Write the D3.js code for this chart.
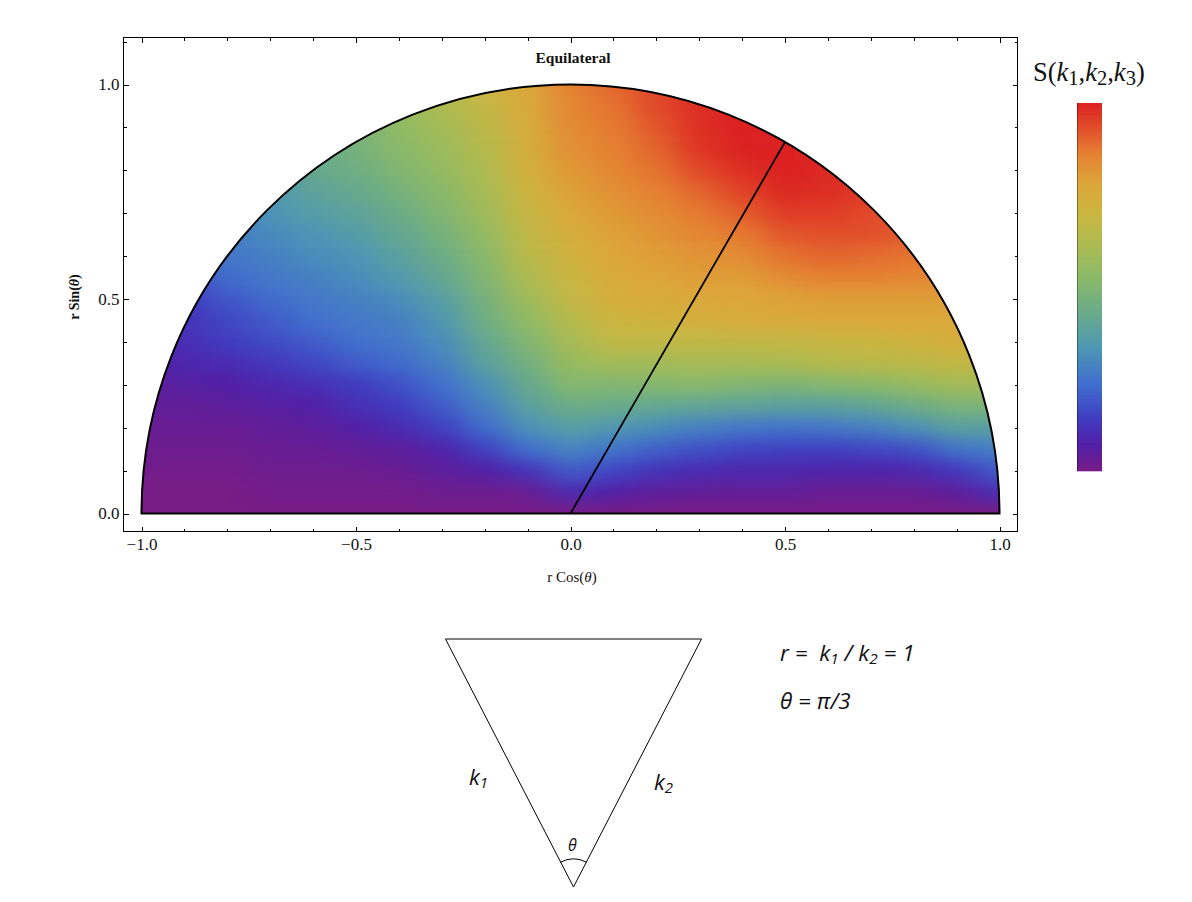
<!DOCTYPE html>
<html lang="en">
<head>
<meta charset="UTF-8">
<title>Equilateral</title>
<script src="https://cdnjs.cloudflare.com/ajax/libs/d3/7.8.5/d3.min.js"></script>
<style>
    html, body { margin: 0; padding: 0; background: #fff; }
    svg { display: block; }
    .axis text { font: 17px "Liberation Serif", serif; fill: #111; }
    .axis path, .axis line { stroke: #000; shape-rendering: crispEdges; }
    .label { font: 16px "Liberation Serif", serif; fill: #111; }
    .note { font-family: "Open Sans", sans-serif; font-style: italic; fill: #111; white-space: pre; }
</style>
</head>
<body>
<script>
var xValues = [-1.1, -1, -.9, -.8, -.7, -.6, -.5, -.4, -.3, -.2, -.1, 0, .1, .2, .3, .4, .5, .6, .7, .8, .9, 1, 1.1];
var yValues = [1.1, 1.05, 1, .95, .9, .85, .8, .75, .7, .65, .6, .55, .5, .45, .4, .35, .3, .25, .2, .15, .1, .05, 0, -.05];
var sValues = [
    [.30, .30, .30, .30, .34, .42, .50, .57, .64, .71, .78, .86, .90, .96, .99, 1, 1, 1, .96, .90, .86, .80, .80],
    [.30, .30, .30, .30, .34, .42, .50, .57, .64, .71, .78, .86, .90, .96, .99, 1, 1, 1, .96, .90, .86, .80, .80],
    [.30, .30, .30, .30, .34, .42, .50, .57, .64, .71, .78, .86, .90, .95, .99, 1, 1, 1, .96, .90, .86, .80, .80],
    [.30, .30, .30, .30, .34, .42, .48, .56, .62, .68, .76, .85, .88, .94, .98, 1, 1, 1, .96, .90, .86, .80, .80],
    [.30, .30, .30, .30, .34, .42, .48, .54, .59, .66, .75, .84, .87, .92, .98, 1, 1, .99, .96, .90, .86, .80, .80],
    [.28, .28, .28, .30, .34, .42, .47, .52, .57, .64, .74, .83, .86, .90, .97, 1, 1, .99, .96, .90, .86, .82, .82],
    [.27, .27, .27, .29, .34, .42, .45, .50, .55, .62, .73, .81, .85, .88, .94, .98, 1, .99, .96, .91, .87, .82, .82],
    [.25, .25, .25, .28, .34, .39, .42, .47, .52, .60, .71, .79, .83, .86, .90, .95, .99, .98, .96, .91, .87, .83, .83],
    [.23, .23, .24, .27, .33, .36, .39, .44, .50, .58, .69, .77, .81, .84, .87, .91, .96, .96, .94, .91, .87, .84, .84],
    [.20, .20, .22, .27, .30, .33, .36, .41, .47, .55, .67, .74, .79, .82, .85, .87, .92, .93, .93, .91, .87, .84, .84],
    [.18, .18, .20, .26, .28, .31, .33, .38, .44, .52, .65, .72, .78, .80, .82, .84, .88, .90, .89, .88, .86, .84, .84],
    [.16, .16, .18, .23, .26, .28, .31, .35, .41, .50, .62, .70, .76, .78, .80, .80, .84, .86, .86, .85, .84, .83, .83],
    [.14, .14, .14, .19, .23, .26, .28, .31, .37, .47, .58, .68, .74, .76, .77, .78, .79, .80, .80, .80, .80, .78, .78],
    [.12, .12, .12, .16, .20, .24, .26, .28, .34, .45, .54, .64, .71, .72, .74, .75, .76, .77, .77, .77, .77, .77, .77],
    [.08, .08, .11, .14, .17, .20, .24, .26, .31, .41, .50, .60, .67, .67, .67, .68, .68, .69, .70, .72, .74, .74, .74],
    [.07, .07, .09, .10, .13, .16, .20, .23, .28, .38, .46, .56, .59, .59, .60, .60, .61, .64, .65, .66, .68, .68, .68],
    [.05, .05, .06, .07, .09, .11, .14, .18, .24, .32, .42, .51, .50, .51, .52, .50, .49, .51, .52, .56, .59, .59, .59],
    [.04, .04, .04, .05, .06, .07, .11, .14, .20, .28, .38, .44, .43, .41, .40, .39, .38, .38, .40, .44, .48, .48, .48],
    [.03, .03, .03, .03, .04, .05, .07, .10, .15, .23, .32, .37, .34, .31, .28, .26, .25, .26, .28, .32, .38, .37, .37],
    [.02, .02, .02, .02, .03, .03, .04, .05, .08, .15, .24, .29, .25, .21, .18, .16, .15, .15, .16, .18, .25, .28, .28],
    [.01, .01, .01, .01, .02, .02, .02, .03, .05, .07, .12, .20, .16, .12, .10, .09, .09, .08, .08, .09, .13, .20, .20],
    [0, 0, 0, 0, .01, .01, .01, .01, .02, .02, .03, .10, .07, .05, .04, .04, .04, .03, .03, .03, .05, .11, .11],
    [0, 0, 0, 0, 0, 0, 0, 0, 0, 0, 0, 0, 0, 0, 0, 0, 0, 0, 0, 0, 0, 0, 0],
    [0, 0, 0, 0, 0, 0, 0, 0, 0, 0, 0, 0, 0, 0, 0, 0, 0, 0, 0, 0, 0, 0, 0]
];
var rampStops = [0, .07, .14, .24, .33, .42, .53, .63, .71, .78, .855, .93, 1];
var rampColors = ["#781c86", "#521fa5", "#403bc0", "#4170ce", "#4d95b6", "#66a98d", "#8cbb68", "#b2bb4e", "#cdb43f", "#dda63a", "#e58533", "#e2502b", "#db2121"];
var majorTicks = [-1, -.5, 0, .5, 1];
var minorTicksX = [-.9, -.8, -.7, -.6, -.4, -.3, -.2, -.1, .1, .2, .3, .4, .6, .7, .8, .9];
var minorTicksY = [.1, .2, .3, .4, .6, .7, .8, .9, 1.1];
var yMajorTicks = [0, .5, 1];
var markerAngle = 60; // degrees, the equilateral line
var trianglePoints = [[-1, 1], [1, 1], [0, 0]];

var width = 1192, height = 902;
var frame = { left: 123.5, right: 1017.5, top: 37.5, bottom: 531.5 };

var x = d3.scaleLinear().domain([-1, 1]).range([141.5, 999.5]);
var y = d3.scaleLinear().domain([0, 1]).range([513.5, 84.5]);
var radius = y(0) - y(1);

var color = d3.scaleLinear().domain(rampStops).range(rampColors);

var svg = d3.select("body").append("svg").
    attr("width", width).
    attr("height", height);

var defs = svg.append("defs");
defs.append("filter").
    attr("id", "smooth").
    attr("filterUnits", "userSpaceOnUse").
    attr("x", 0).attr("y", 0).attr("width", width).attr("height", height).
    attr("color-interpolation-filters", "sRGB").
    append("feGaussianBlur").
    attr("stdDeviation", "15 8");

var halfDisc = d3.arc().innerRadius(0).outerRadius(radius).
    startAngle(-Math.PI / 2).endAngle(Math.PI / 2);

defs.append("clipPath").
    attr("id", "disc").
    append("path").
    attr("transform", "translate(" + x(0) + "," + y(0) + ")").
    attr("d", halfDisc());

// the map: one rect for each grid value, smoothed by the filter and cut to the half disc
var cells = [];
yValues.forEach(function(yv, j) {
    xValues.forEach(function(xv, i) {
        cells.push({ x: xv, y: yv, s: sValues[j][i] });
    });
});

var map = svg.append("g").
    attr("clip-path", "url(#disc)").
    append("g").
    attr("filter", "url(#smooth)");

map.selectAll("rect").
    data(cells).
    enter().append("rect").
    attr("x", function(d) { return x(d.x - .05); }).
    attr("y", function(d) { return y(d.y + .025); }).
    attr("width", x(.1) - x(0) + .5).
    attr("height", y(0) - y(.05) + .5).
    attr("fill", function(d) { return color(d.s); });

// outline and the line for the equilateral configuration
svg.append("path").
    attr("transform", "translate(" + x(0) + "," + y(0) + ")").
    attr("d", halfDisc()).
    attr("fill", "none").
    attr("stroke", "#000").
    attr("stroke-width", 2);

var lineAngle = markerAngle * Math.PI / 180;
svg.append("line").
    attr("x1", x(0)).
    attr("y1", y(0)).
    attr("x2", x(Math.cos(lineAngle))).
    attr("y2", y(Math.sin(lineAngle))).
    attr("stroke", "#000").
    attr("stroke-width", 1.8);

// frame
svg.append("rect").
    attr("x", frame.left).
    attr("y", frame.top).
    attr("width", frame.right - frame.left).
    attr("height", frame.bottom - frame.top).
    attr("fill", "none").
    attr("stroke", "#000").
    attr("shape-rendering", "crispEdges");

function drawTicks(axis, translate, values, size, padding, format) {
    var g = svg.append("g").
        attr("class", "axis").
        attr("transform", "translate(" + translate + ")").
        call(axis.tickValues(values).tickSize(size).tickPadding(padding).tickFormat(format));
    g.select(".domain").remove();
    return g;
}

var fmt = d3.format(".1f");
var none = function() { return ""; };

drawTicks(d3.axisBottom(x), "0," + frame.bottom, majorTicks, -5, 6, fmt);
drawTicks(d3.axisBottom(x), "0," + frame.bottom, minorTicksX, -3, 0, none);
drawTicks(d3.axisTop(x), "0," + frame.top, majorTicks, -5, 0, none);
drawTicks(d3.axisTop(x), "0," + frame.top, minorTicksX, -3, 0, none);
drawTicks(d3.axisLeft(y), frame.left + ",0", yMajorTicks, -5, 4, fmt);
drawTicks(d3.axisLeft(y), frame.left + ",0", minorTicksY, -3, 0, none);
drawTicks(d3.axisRight(y), frame.right + ",0", yMajorTicks, -5, 0, none);
drawTicks(d3.axisRight(y), frame.right + ",0", minorTicksY, -3, 0, none);

// labels
svg.append("text").
    attr("class", "label").
    attr("x", 573).
    attr("y", 63).
    attr("text-anchor", "middle").
    style("font-weight", "bold").
    style("font-size", "15.5px").
    text("Equilateral");

function thetaLabel(sel, name) {
    sel.append("tspan").text("r " + name + "(");
    sel.append("tspan").style("font-style", "italic").text("θ");
    sel.append("tspan").text(")");
}

svg.append("text").
    attr("class", "label").
    attr("x", 572).
    attr("y", 582).
    attr("text-anchor", "middle").
    style("font-size", "15px").
    call(thetaLabel, "Cos");

svg.append("text").
    attr("class", "label").
    attr("transform", "translate(79,297) rotate(-90)").
    attr("text-anchor", "middle").
    style("font-size", "14px").
    style("font-weight", "bold").
    call(thetaLabel, "Sin");

// colour bar
var barValues = d3.range(0, 92).map(function(i) { return (i + .5) / 92; });
var barY = d3.scaleLinear().domain([0, 1]).range([471, 103]);
svg.append("g").
    selectAll("rect").
    data(barValues).
    enter().append("rect").
    attr("x", 1077).
    attr("y", function(d) { return barY(d + .5 / 92); }).
    attr("width", 25).
    attr("height", 368 / 92 + .3).
    attr("fill", function(d) { return color(d); });

svg.append("line").
    attr("x1", 1077.5).attr("x2", 1077.5).
    attr("y1", 103).attr("y2", 471).
    attr("stroke", "#000").
    attr("stroke-opacity", .35);

var barTitle = svg.append("text").
    attr("x", 1033).
    attr("y", 81).
    attr("fill", "#111").
    style("font-family", "'Liberation Serif', serif").
    style("font-size", "26.5px");

function mathPart(text, italic, sub) {
    var t = barTitle.append("tspan").text(text);
    if (italic) t.style("font-style", "italic");
    if (sub) t.attr("dy", 4).style("font-size", "20.5px");
    return t;
}
mathPart("S(");
mathPart("k", true);
mathPart("1", false, true);
mathPart(",", false).attr("dy", -4);
mathPart("k", true);
mathPart("2", false, true);
mathPart(",", false).attr("dy", -4);
mathPart("k", true);
mathPart("3", false, true);
mathPart(")", false).attr("dy", -4);

// triangle diagram below the map
var triX = d3.scaleLinear().domain([-1, 1]).range([445.5, 701.5]);
var triY = d3.scaleLinear().domain([0, 1]).range([887, 639]);
var triLine = d3.line().
    x(function(d) { return triX(d[0]); }).
    y(function(d) { return triY(d[1]); }).
    curve(d3.curveLinearClosed);

svg.append("path").
    attr("d", triLine(trianglePoints)).
    attr("fill", "none").
    attr("stroke", "#000").
    attr("stroke-width", 1);

var anglePath = d3.path();
anglePath.arc(triX(0), triY(0), 28, -Math.PI / 2 - .4855, -Math.PI / 2 + .4855);
svg.append("path").
    attr("d", anglePath.toString()).
    attr("fill", "none").
    attr("stroke", "#000").
    attr("stroke-width", 1);

function note(px, py, size, parts) {
    var t = svg.append("text").
        attr("class", "note").
        attr("x", px).
        attr("y", py).
        style("font-size", size + "px");
    var sub = false;
    parts.forEach(function(p) {
        var isSub = p.charAt(0) === "_";
        var s = t.append("tspan").text(isSub ? p.slice(1) : p);
        if (isSub) s.style("font-size", size * .68 + "px").attr("dy", 3);
        else if (sub) s.attr("dy", -3);
        sub = isSub;
    });
}

note(780, 661, 22.5, ["r =  k", "_1", " / k", "_2", " = 1"]);
note(780, 709, 22.5, ["θ = π/3"]);
note(469, 785, 22, ["k", "_1"]);
note(654, 790, 22, ["k", "_2"]);
note(568, 851, 16, ["θ"]);
</script>
</body>
</html>
